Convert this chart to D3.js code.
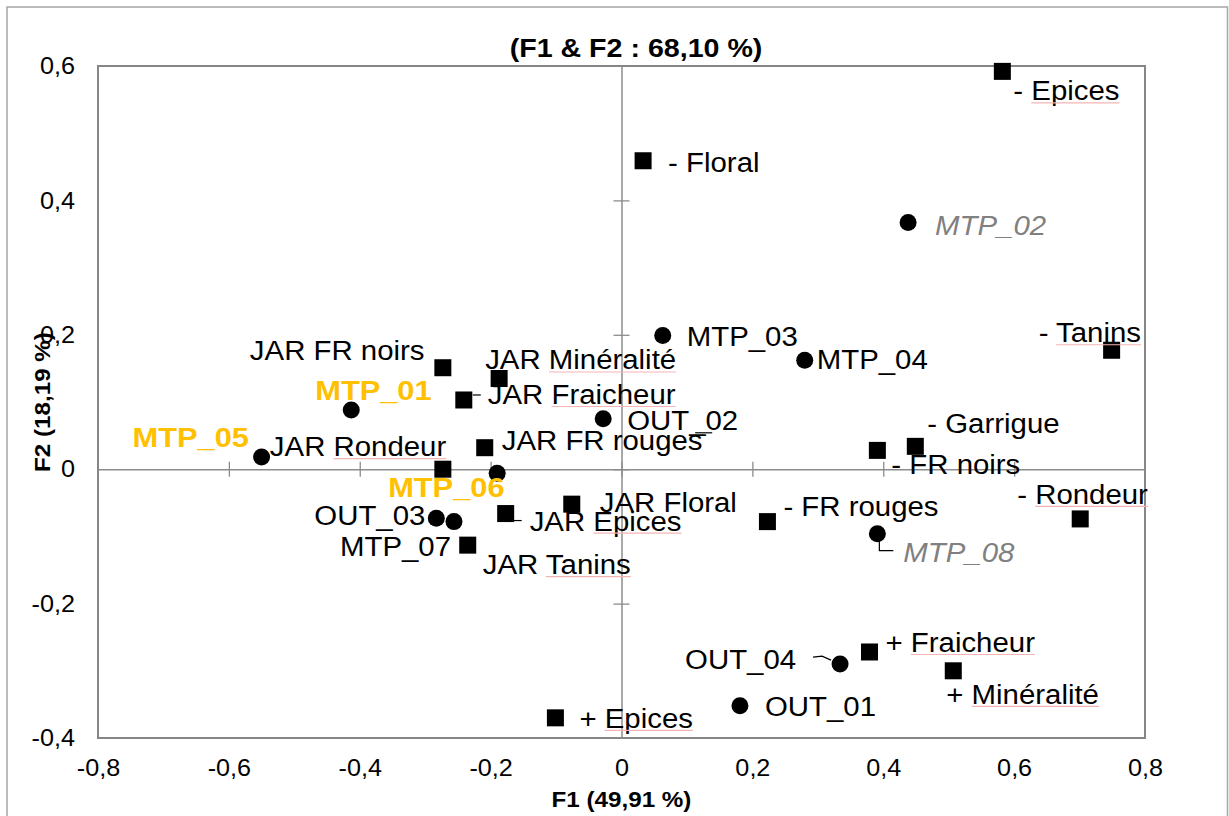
<!DOCTYPE html>
<html>
<head>
<meta charset="utf-8">
<script src="https://cdn.jsdelivr.net/npm/d3@7"></script>
<style>
  html, body { margin: 0; padding: 0; background: #fff; }
  text { font-family: Arial, "Liberation Sans", sans-serif; }
</style>
</head>
<body>
<svg id="chart" width="1229" height="816"></svg>
<script>
// observations (circles)
const obsNames = ["MTP_01", "MTP_02", "MTP_03", "MTP_04", "MTP_05", "MTP_06", "MTP_07", "MTP_08",
                  "OUT_01", "OUT_02", "OUT_03", "OUT_04"];
const obsF1 = [-0.413, 0.438, 0.063, 0.280, -0.550, -0.190, -0.256, 0.391, 0.181, -0.028, -0.283, 0.334];
const obsF2 = [0.088, 0.367, 0.199, 0.162, 0.018, -0.006, -0.078, -0.096, -0.352, 0.075, -0.073, -0.290];

// variables (squares)
const varNames = ["- Epices", "- Floral", "- Tanins", "- Garrigue", "- FR noirs", "- Rondeur", "- FR rouges",
                  "+ Fraicheur", "+ Minéralité", "+ Epices",
                  "JAR FR noirs", "JAR Minéralité", "JAR Fraicheur", "JAR FR rouges", "JAR Rondeur",
                  "JAR Floral", "JAR Epices", "JAR Tanins"];
const varF1 = [0.582, 0.033, 0.749, 0.449, 0.391, 0.701, 0.223, 0.379, 0.507, -0.101,
               -0.273, -0.187, -0.241, -0.209, -0.273, -0.076, -0.177, -0.235];
const varF2 = [0.592, 0.459, 0.177, 0.034, 0.028, -0.074, -0.078, -0.272, -0.300, -0.370,
               0.151, 0.135, 0.103, 0.032, 0.000, -0.052, -0.066, -0.113];

const xTicks = [-0.8, -0.6, -0.4, -0.2, 0, 0.2, 0.4, 0.6, 0.8];
const yTicks = [-0.4, -0.2, 0, 0.2, 0.4, 0.6];

const chartTitle = "(F1 & F2 : 68,10 %)";
const xTitle = "F1 (49,91 %)";
const yTitle = "F2 (18,19 %)";

// --- label layout (offset of label start / baseline from the mark) ---
const labelPos = {
  "MTP_01": [-36, -10], "MTP_02": [27, 12], "MTP_03": [24, 11], "MTP_04": [12, 9],
  "MTP_05": [-129, -10], "MTP_06": [-109, 24], "MTP_07": [-114, 34], "MTP_08": [26, 28],
  "OUT_01": [25, 10], "OUT_02": [24, 11], "OUT_03": [-122, 7], "OUT_04": [-155, 5],
  "- Epices": [11, 29], "- Floral": [25, 11], "- Tanins": [-73, -8], "- Garrigue": [12, -13],
  "- FR noirs": [14, 24], "- Rondeur": [-63, -15], "- FR rouges": [16, -6],
  "+ Fraicheur": [16, 0], "+ Minéralité": [-7, 33], "+ Epices": [24, 10],
  "JAR FR noirs": [-193, -8], "JAR Minéralité": [-14, -9], "JAR Fraicheur": [24, 4],
  "JAR FR rouges": [17, 2], "JAR Rondeur": [-173, -13], "JAR Floral": [28, 8],
  "JAR Epices": [24, 17], "JAR Tanins": [15, 29]
};
const orangeLabels = ["MTP_01", "MTP_05", "MTP_06"];
const greyLabels = ["MTP_02", "MTP_08"];
// words flagged with a spell-check underline
const flagged = ["Epices", "Tanins", "Rondeur", "Minéralité", "Fraicheur"];
// leader lines, relative to the mark
const leaders = {
  "JAR Fraicheur": [[9, -5], [17, -5]],
  "JAR Epices": [[7, 7], [16, 7]],
  "MTP_08": [[2, 7], [2, 17], [16, 17]],
  "OUT_04": [[-27, -7], [-18, -8], [-9, -4]],
  "OUT_02": [[92, 14], [109, 14]]
};

// --- params ---
const sx = 1.05;         // horizontal text stretch of the original
const labelSize = 28;
const tickSize = 24;
const markR = 8.5;
const sq = 17;

const svg = d3.select("#chart");
const mLeft = 98, mRight = 1145, mTop = 66, mBottom = 738;

const x = d3.scaleLinear().domain([-0.8, 0.8]).range([mLeft, mRight]);
const y = d3.scaleLinear().domain([-0.4, 0.6]).range([mBottom, mTop]);

const loc = d3.formatLocale({ decimal: ",", thousands: " ", grouping: [3], currency: ["", ""], minus: "-" });
const f1 = loc.format(".1f");
const fmt = (v) => Math.abs(v) < 1e-9 ? "0" : f1(v);

// outer border
svg.append("rect")
  .attr("x", 7).attr("y", 7).attr("width", 1220.5).attr("height", 830)
  .attr("fill", "white").attr("stroke", "#a6a6a6").attr("stroke-width", 1.5);

// plot frame
svg.append("rect")
  .attr("x", mLeft).attr("y", mTop).attr("width", mRight - mLeft).attr("height", mBottom - mTop)
  .attr("fill", "none").attr("stroke", "#868686").attr("stroke-width", 2);

// zero lines with crossing ticks
const zx = svg.append("g").attr("transform", `translate(0,${y(0)})`)
  .call(d3.axisBottom(x).tickValues(xTicks.slice(1, -1)).tickSize(8).tickFormat("").tickSizeOuter(0));
zx.selectAll("line").attr("y1", -7.5).attr("y2", 7.5);
const zy = svg.append("g").attr("transform", `translate(${x(0)},0)`)
  .call(d3.axisLeft(y).tickValues(yTicks.slice(1, -1)).tickSize(8).tickFormat("").tickSizeOuter(0));
zy.selectAll("line").attr("x1", -8).attr("x2", 8);
svg.selectAll(".domain").attr("stroke", "#8c8c8c").attr("stroke-width", 1.5);
svg.selectAll(".tick line").attr("stroke", "#8c8c8c").attr("stroke-width", 1.3);

// tick labels
const xl = svg.append("g").attr("transform", `translate(0,${mBottom})`)
  .call(d3.axisBottom(x).tickValues(xTicks).tickFormat(fmt).tickSize(0).tickPadding(21));
const yl = svg.append("g").attr("transform", `translate(${mLeft},0)`)
  .call(d3.axisLeft(y).tickValues(yTicks).tickFormat(fmt).tickSize(0).tickPadding(23));
[xl, yl].forEach((g) => {
  g.select(".domain").remove();
  g.selectAll("text")
    .attr("font-size", tickSize)
    .attr("font-family", "Arial, 'Liberation Sans', sans-serif")
    .attr("fill", "#000")
    .attr("transform", `scale(${sx},1)`);
});
yl.selectAll("text").attr("x", -23 / sx);

// titles
svg.append("text")
  .attr("transform", `translate(636,57) scale(1.1,1)`)
  .attr("text-anchor", "middle").attr("font-weight", "bold").attr("font-size", 26)
  .text(chartTitle);
svg.append("text")
  .attr("transform", `translate(${x(0)},807) scale(1.1,1)`)
  .attr("text-anchor", "middle").attr("font-weight", "bold").attr("font-size", 22)
  .text(xTitle);
svg.append("text")
  .attr("transform", `translate(50,${(mTop + mBottom) / 2}) rotate(-90) scale(1.1,1)`)
  .attr("text-anchor", "middle").attr("font-weight", "bold").attr("font-size", 22)
  .text(yTitle);

// marks
const obs = obsNames.map((n, i) => ({ name: n, f1: obsF1[i], f2: obsF2[i] }));
const vars = varNames.map((n, i) => ({ name: n, f1: varF1[i], f2: varF2[i] }));
const all = vars.concat(obs);

const line = d3.line();
svg.append("g").selectAll("path")
  .data(all.filter((d) => leaders[d.name]))
  .join("path")
  .attr("d", (d) => line(leaders[d.name].map(([dx, dy]) => [x(d.f1) + dx, y(d.f2) + dy])))
  .attr("fill", "none").attr("stroke", "#000").attr("stroke-width", 1.2);

svg.append("g").selectAll("rect")
  .data(vars)
  .join("rect")
  .attr("x", (d) => x(d.f1) - sq / 2)
  .attr("y", (d) => y(d.f2) - sq / 2)
  .attr("width", sq).attr("height", sq)
  .attr("fill", "#000");

svg.append("g").selectAll("circle")
  .data(obs)
  .join("circle")
  .attr("cx", (d) => x(d.f1))
  .attr("cy", (d) => y(d.f2))
  .attr("r", markR)
  .attr("fill", "#000");

// labels
const lab = svg.append("g").selectAll("g")
  .data(all)
  .join("g")
  .attr("transform", (d) => {
    const [dx, dy] = labelPos[d.name];
    const s = orangeLabels.includes(d.name) ? 1.1 : sx;
    return `translate(${x(d.f1) + dx},${y(d.f2) + dy}) scale(${s},1)`;
  });

lab.append("text")
  .attr("font-size", labelSize)
  .attr("font-weight", (d) => orangeLabels.includes(d.name) ? "bold" : null)
  .attr("font-style", (d) => greyLabels.includes(d.name) ? "italic" : null)
  .attr("fill", (d) => orangeLabels.includes(d.name) ? "#ffc000" : greyLabels.includes(d.name) ? "#808080" : "#000")
  .text((d) => d.name);

// spell-check underline
lab.each(function (d) {
  const word = flagged.find((w) => d.name.endsWith(w));
  if (!word) return;
  const t = d3.select(this).select("text").node();
  const start = d.name.length - word.length;
  const x0 = t.getSubStringLength(0, start);
  const w = t.getSubStringLength(start, word.length);
  d3.select(this).append("line")
    .attr("x1", x0).attr("x2", x0 + w)
    .attr("y1", 2.5).attr("y2", 2.5)
    .attr("stroke", "#f4b4b4").attr("stroke-width", 1.2);
});
</script>
</body>
</html>
